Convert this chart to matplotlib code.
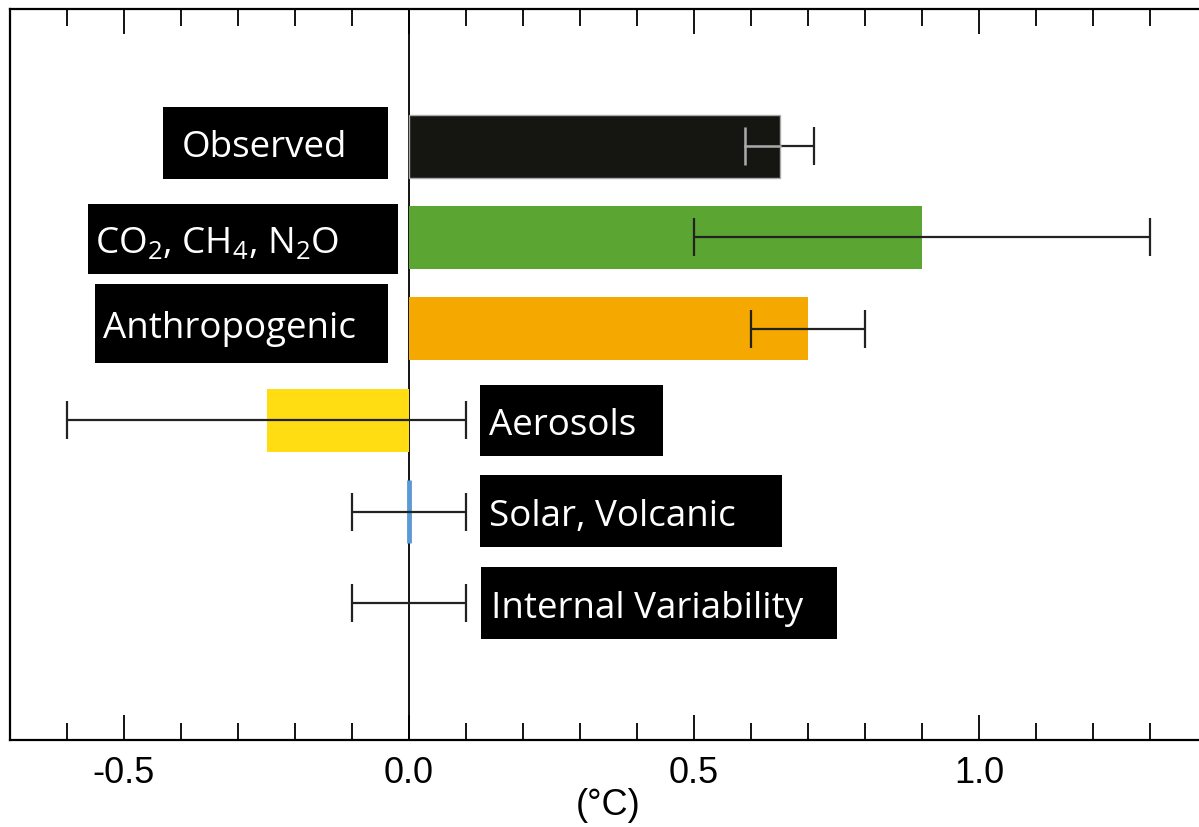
import matplotlib
matplotlib.use("Agg")
import matplotlib.pyplot as plt
from matplotlib.patches import Rectangle
from matplotlib.ticker import MultipleLocator, FormatStrFormatter

# данные: вклад в потепление (°C) и неопределённость (±)
labels = ["Observed", "CO$_2$, CH$_4$, N$_2$O", "Anthropogenic",
          "Aerosols", "Solar, Volcanic", "Internal Variability"]
values = [0.65, 0.9, 0.7, -0.25, 0.0, 0.0]
errors = [0.06, 0.4, 0.1, 0.35, 0.1, 0.1]
colors = ["#151511", "#5ba533", "#f5a800", "#ffdd12", "#5b9bd5", "none"]

# подписи в чёрных плашках: границы плашек (x в °C, y в строках)
box_x0 = [-0.431, -0.564, -0.550, 0.125, 0.125, 0.127]
box_x1 = [-0.036, -0.019, -0.036, 0.446, 0.655, 0.750]
box_y0 = [-0.43, 0.63, 1.51, 2.61, 3.60, 4.61]
box_y1 = [0.36, 1.40, 2.37, 3.39, 4.39, 5.39]
text_x = [-0.398, -0.550, -0.536, 0.141, 0.141, 0.143]

plt.rcParams["axes.unicode_minus"] = False
plt.rcParams["mathtext.fontset"] = "custom"
plt.rcParams["mathtext.rm"] = "Open Sans"
plt.rcParams["mathtext.it"] = "Open Sans"

fig = plt.figure(figsize=(11.99, 8.28), dpi=100)
ax = fig.add_axes([10 / 1199, 87 / 828, 1197 / 1199, 731 / 828])

rows = list(range(len(labels)))

ax.axvline(0, color="black", lw=1.3, zorder=1)

for i in rows:
    if colors[i] == "none":
        continue
    if i == 0:
        ax.barh(i, values[i], height=0.69, color=colors[i], edgecolor="#aaaaaa", lw=1, zorder=2)
    elif values[i] == 0:
        ax.barh(i, values[i], height=0.69, color=colors[i], edgecolor=colors[i], lw=3.5, zorder=2)
    else:
        ax.barh(i, values[i], height=0.69, color=colors[i], lw=0, zorder=2)

ax.errorbar(values, rows, xerr=errors, fmt="none", ecolor="#222222",
            elinewidth=1.6, capsize=14, capthick=1.6, zorder=3)

# внутри тёмного столбца ус светлый
lo = values[0] - errors[0]
ax.plot([lo, values[0]], [0, 0], color="#aaaaaa", lw=1.8, zorder=4)
ax.plot([lo], [0], marker="|", markersize=28, mew=1.8, color="#aaaaaa", zorder=4)

for i in rows:
    ax.add_patch(Rectangle((box_x0[i], box_y0[i]), box_x1[i] - box_x0[i],
                           box_y1[i] - box_y0[i], facecolor="black", lw=0, zorder=5))
    ax.text(text_x[i], (box_y0[i] + box_y1[i]) / 2 + 0.05, labels[i], color="white",
            fontsize=26.5, family="Open Sans", ha="left", va="center", zorder=6)

ax.set_xlim(-0.7, 1.4)
ax.set_ylim(6.5, -1.5)

ax.xaxis.set_major_locator(MultipleLocator(0.5))
ax.xaxis.set_minor_locator(MultipleLocator(0.1))
ax.xaxis.set_major_formatter(FormatStrFormatter("%.1f"))
ax.tick_params(axis="x", which="major", direction="in", top=True, length=18,
               width=1.3, pad=11, labelsize=26, labelfontfamily="Liberation Sans")
ax.tick_params(axis="x", which="minor", direction="in", top=True, length=12, width=1.3)
ax.set_yticks([])
for s in ax.spines.values():
    s.set_linewidth(1.6)
ax.spines["right"].set_visible(False)

ax.set_xlabel("(°C)", fontsize=26, family="Liberation Sans", labelpad=-2)

fig.savefig("out.png", dpi=100)
